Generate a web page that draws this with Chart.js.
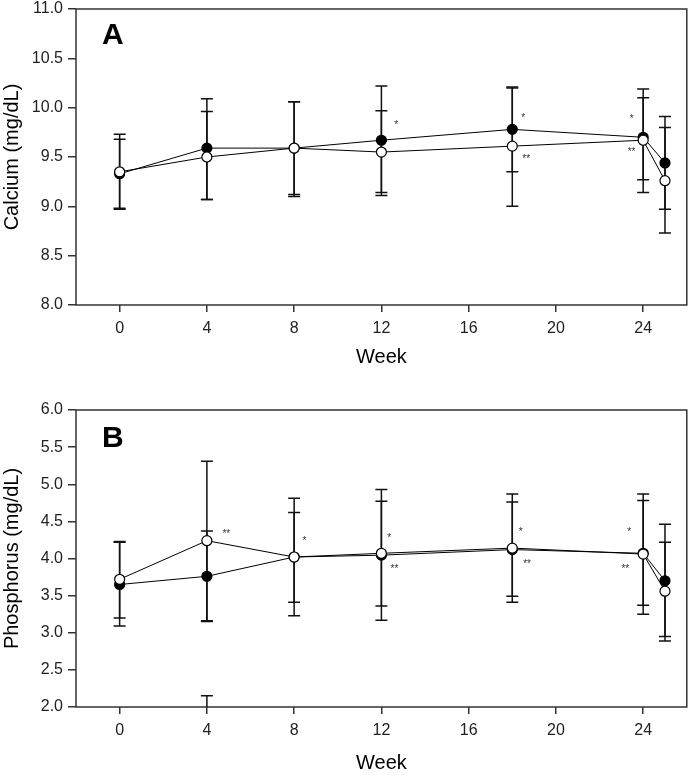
<!DOCTYPE html>
<html>
<head>
<meta charset="utf-8">
<script src="https://cdn.jsdelivr.net/npm/chart.js@4"></script>
<style>
html,body{margin:0;padding:0;background:#fff;}
#wrap{position:relative;width:693px;height:775px;}
#cA{position:absolute;left:0;top:0;}
#cB{position:absolute;left:0;top:380px;}
</style>
</head>
<body>
<div id="wrap">
<canvas id="cA" width="693" height="380"></canvas>
<canvas id="cB" width="693" height="395"></canvas>
</div>
<script>
// ---------- DATA ----------
const weeks = [0, 4, 8, 12, 18, 24, 25];
const xTickValues = [0, 4, 8, 12, 16, 20, 24];

// Panel A: Calcium (mg/dL)
const caBlack      = [9.33, 9.59, 9.59, 9.67, 9.78, 9.70, 9.44];
const caBlackUpper = [9.68, 10.09, 10.06, 10.22, 10.20, 10.10, 9.91];
const caBlackLower = [8.97, 9.07, 9.10, 9.11, 9.35, 9.27, 8.97];
const caWhite      = [9.35, 9.50, 9.59, 9.55, 9.61, 9.67, 9.26];
const caWhiteUpper = [9.73, 9.96, 10.06, 9.97, 10.21, 10.19, 9.80];
const caWhiteLower = [8.98, 9.07, 9.12, 9.14, 9.00, 9.14, 8.73];
const caYTicks = [8.0, 8.5, 9.0, 9.5, 10.0, 10.5, 11.0];
const caStars = [
  {x: 12.68, y: 9.82, t: '*'},
  {x: 18.5, y: 9.895, t: '*'},
  {x: 18.64, y: 9.48, t: '**'},
  {x: 23.47, y: 9.885, t: '*'},
  {x: 23.47, y: 9.546, t: '**'}
];

// Panel B: Phosphorus (mg/dL)
const phBlack      = [3.65, 3.76, 4.02, 4.045, 4.12, 4.07, 3.70];
const phBlackUpper = [4.22, 4.37, 4.62, 4.93, 4.76, 4.78, 4.46];
const phBlackLower = [3.09, 3.15, 3.41, 3.17, 3.49, 3.37, 2.95];
const phWhite      = [3.72, 4.24, 4.02, 4.07, 4.14, 4.06, 3.56];
const phWhiteUpper = [4.23, 5.31, 4.81, 4.77, 4.87, 4.87, 4.22];
const phWhiteLower = [3.20, 3.16, 3.23, 3.36, 3.41, 3.25, 2.89];
const phStrayCaps = [{x: 4, y: 2.15}];
const phYTicks = [2.0, 2.5, 3.0, 3.5, 4.0, 4.5, 5.0, 5.5, 6.0];
const phStars = [
  {x: 4.89, y: 4.325, t: '**'},
  {x: 8.47, y: 4.235, t: '*'},
  {x: 12.36, y: 4.27, t: '*'},
  {x: 12.6, y: 3.857, t: '**'},
  {x: 18.38, y: 4.356, t: '*'},
  {x: 18.68, y: 3.92, t: '**'},
  {x: 23.36, y: 4.356, t: '*'},
  {x: 23.18, y: 3.857, t: '**'}
];

// ---------- HELPERS ----------
const FONT = "'Liberation Sans', Arial, sans-serif";
const toXY = (vals) => vals.map((v, i) => ({x: weeks[i], y: v}));

const decorPlugin = {
  id: 'decor',
  beforeDatasetsDraw(chart) {
    const o = chart.options.plugins.decor;
    const {ctx, chartArea: a} = chart;
    const xs = chart.scales.x, ys = chart.scales.y;
    ctx.save();
    // frame
    ctx.strokeStyle = '#333';
    ctx.lineWidth = 1.5;
    ctx.strokeRect(a.left, a.top, a.right - a.left, a.bottom - a.top);
    // error bars
    ctx.strokeStyle = '#111';
    ctx.lineWidth = 1.5;
    const cap = 6;
    o.errors.forEach(e => {
      e.upper.forEach((u, i) => {
        const px = xs.getPixelForValue(weeks[i]);
        const pu = ys.getPixelForValue(u);
        const pl = ys.getPixelForValue(e.lower[i]);
        ctx.beginPath();
        ctx.moveTo(px, pu); ctx.lineTo(px, pl);
        ctx.moveTo(px - cap, pu); ctx.lineTo(px + cap, pu);
        ctx.moveTo(px - cap, pl); ctx.lineTo(px + cap, pl);
        ctx.stroke();
      });
    });
    (o.stray || []).forEach(s => {
      const px = xs.getPixelForValue(s.x);
      const py = ys.getPixelForValue(s.y);
      ctx.beginPath();
      ctx.moveTo(px - cap, py); ctx.lineTo(px + cap, py);
      ctx.moveTo(px, py); ctx.lineTo(px, a.bottom);
      ctx.stroke();
    });
    ctx.restore();
  },
  afterDatasetsDraw(chart) {
    const o = chart.options.plugins.decor;
    const {ctx, chartArea: a} = chart;
    const xs = chart.scales.x, ys = chart.scales.y;
    ctx.save();
    ctx.fillStyle = '#333';
    ctx.font = '10px ' + FONT;
    ctx.textAlign = 'center';
    ctx.textBaseline = 'middle';
    o.stars.forEach(s => {
      ctx.fillText(s.t, xs.getPixelForValue(s.x), ys.getPixelForValue(s.y));
    });
    ctx.fillStyle = '#000';
    ctx.font = 'bold 30px ' + FONT;
    ctx.textAlign = 'left';
    ctx.textBaseline = 'alphabetic';
    ctx.fillText(o.letter, a.left + 26, a.top + o.letterDy);
    ctx.restore();
  }
};

function makeChart(id, cfg) {
  return new Chart(document.getElementById(id), {
    type: 'line',
    data: {
      datasets: [
        {
          label: 'open',
          data: toXY(cfg.white),
          borderColor: '#000', borderWidth: 1,
          pointRadius: 5, pointBorderWidth: 1.2,
          pointBackgroundColor: '#fff', pointBorderColor: '#000',
          tension: 0
        },
        {
          label: 'filled',
          data: toXY(cfg.black),
          borderColor: '#000', borderWidth: 1,
          pointRadius: 5, pointBorderWidth: 1.2,
          pointBackgroundColor: '#000', pointBorderColor: '#000',
          tension: 0
        }
      ]
    },
    options: {
      responsive: false,
      animation: false,
      events: [],
      layout: {padding: {top: cfg.padTop, right: cfg.padRight, left: 0, bottom: 0}},
      plugins: {
        legend: {display: false},
        tooltip: {enabled: false},
        decor: {
          errors: [
            {upper: cfg.blackUpper, lower: cfg.blackLower},
            {upper: cfg.whiteUpper, lower: cfg.whiteLower}
          ],
          stray: cfg.stray,
          stars: cfg.stars,
          letter: cfg.letter,
          letterDy: cfg.letterDy
        }
      },
      scales: {
        x: {
          type: 'linear', min: -2, max: 26,
          afterBuildTicks(s) { s.ticks = xTickValues.map(v => ({value: v})); },
          afterFit(s) { s.height = cfg.xHeight; s.paddingLeft = 0; s.paddingRight = 0; },
          grid: {display: true, drawOnChartArea: false, drawTicks: true, tickLength: 7, color: '#333', lineWidth: 1.5},
          border: {display: false},
          ticks: {color: '#222', font: {family: FONT, size: 16}, padding: 7, maxRotation: 0, autoSkip: false},
          title: {display: true, text: 'Week', color: '#000', font: {family: FONT, size: 20}, padding: {top: 0, bottom: cfg.titlePadBottom}}
        },
        y: {
          type: 'linear', min: cfg.yMin, max: cfg.yMax,
          afterBuildTicks(s) { s.ticks = cfg.yTicks.map(v => ({value: v})); },
          afterFit(s) { s.width = 76; s.paddingTop = 0; s.paddingBottom = 0; },
          grid: {display: true, drawOnChartArea: false, drawTicks: true, tickLength: 8, color: '#333', lineWidth: 1.5},
          border: {display: false},
          ticks: {color: '#222', font: {family: FONT, size: 16}, padding: 5, callback: v => Number(v).toFixed(1)},
          title: {display: true, text: cfg.yTitle, color: '#000', font: {family: FONT, size: 20}, padding: {top: 0, bottom: 0}}
        }
      }
    },
    plugins: [decorPlugin]
  });
}

makeChart('cA', {
  white: caWhite, black: caBlack,
  whiteUpper: caWhiteUpper, whiteLower: caWhiteLower,
  blackUpper: caBlackUpper, blackLower: caBlackLower,
  stray: [], stars: caStars, letter: 'A', letterDy: 35,
  yMin: 8, yMax: 11, yTicks: caYTicks, yTitle: 'Calcium (mg/dL)',
  padTop: 9, padRight: 6, xHeight: 75, titlePadBottom: 11
});

makeChart('cB', {
  white: phWhite, black: phBlack,
  whiteUpper: phWhiteUpper, whiteLower: phWhiteLower,
  blackUpper: phBlackUpper, blackLower: phBlackLower,
  stray: phStrayCaps, stars: phStars, letter: 'B', letterDy: 37,
  yMin: 2, yMax: 6, yTicks: phYTicks, yTitle: 'Phosphorus (mg/dL)',
  padTop: 30, padRight: 4, xHeight: 68, titlePadBottom: 0
});
</script>
</body>
</html>
